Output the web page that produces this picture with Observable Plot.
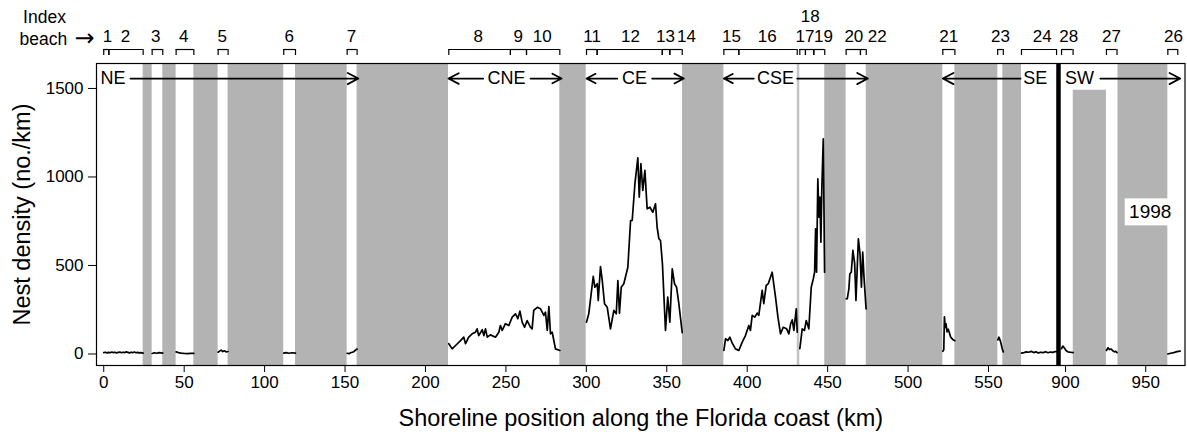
<!DOCTYPE html>
<html><head><meta charset="utf-8">
<script src="https://cdn.jsdelivr.net/npm/d3@7"></script>
<script src="https://cdn.jsdelivr.net/npm/@observablehq/plot@0.6"></script>
<style>
body{margin:0;background:#fff;}
#chart svg{font-family:"Liberation Sans",Arial,Helvetica,sans-serif;}
</style></head><body><div id="chart"></div>
<script>
// ---- data (km along coast, nests per km) ----
const xTicks = [0,50,100,150,200,250,300,350,400,450,500,550,900,950];
const yTicks = [0,500,1000,1500];

// unsurveyed shoreline (grey) [startKm, endKm]
const greyZones = [[24.5,30.1],[36.7,45.0],[56.0,71.1],[77.3,111.9],[119.2,151.3],[157.5,214.3],[283.5,299.9],[359.8,385.5],[448.2,461.5],[474.0,521.6],[529.1,555.8],[558.9,570.5],[932.7,963.8]];
const greyPartial = [[904.8,925.5,1490]];
const greyThin = [[431.1,432.7]];
const coastDivide = [593.5];

// nest-density segments [km, density]
const segB12 = [[0,8],[1,10],[2,6],[3,9],[4,7],[5,11],[6,8],[7,10],[8,6],[9,9],[10,11],[11,7],[12,10],[13,8],[14,12],[15,9],[16,6],[17,10],[18,8],[19,11],[20,7],[21,9],[22,6],[23,8],[24.5,5]];
const segB3 = [[30.1,3],[31.5,7],[33,4],[34.5,8],[36.7,5]];
const segB4 = [[45,12],[46.5,8],[48,5],[50,3],[52,2],[54,3],[56,4]];
const segB5 = [[71.1,10],[72,16],[73,22],[74,14],[75,18],[76,12],[77.3,14]];
const segB6 = [[111.9,5],[113.5,8],[115,4],[117,7],[119.2,5]];
const segB7 = [[151.3,4],[152.5,2],[153.5,7],[154.5,10],[155.5,13],[156.5,22],[157.5,28]];
const segCNE = [[214.5,58],[216.6,29],[218.7,48],[221.8,76],[223.8,95],[224.9,58],[226.9,95],[229,114],[231.1,123],[232.1,142],[233.1,104],[235.3,137],[236.3,104],[237.3,142],[238.4,95],[240.4,108],[243.5,95],[245.6,123],[246.6,161],[247.7,133],[249.7,171],[251.8,161],[253.9,208],[256,227],[257.4,199],[258.7,242],[260.1,180],[261.6,151],[263.2,189],[265.3,151],[266.3,142],[267.3,246],[269.5,264],[271.5,255],[273.6,218],[274.6,236],[275.7,133],[276.7,268],[277.7,114],[278.8,123],[280.8,29],[283.5,20]];
const segCE = [[300.1,180],[301.5,227],[304.3,438],[305.3,377],[306.8,397],[307.4,302],[308.8,494],[309.9,415],[311.3,284],[313,264],[315,142],[317.1,246],[318.6,227],[319.6,415],[320.6,230],[321.7,377],[323.3,397],[325.8,490],[327.5,754],[328.5,754],[330.2,962],[332,1108],[332.9,886],[333.9,1075],[335.1,924],[336.4,1037],[337.8,820],[339.5,829],[341.3,801],[343,849],[344,716],[345.1,651],[346.1,641],[347.3,510],[349.2,133],[350.6,321],[351.9,180],[353.4,481],[354.8,397],[356.1,377],[357.5,284],[359.6,120]];
const segCSE1 = [[385.5,20],[386.5,86],[388,76],[389.2,95],[390.7,61],[392.7,29],[394.8,20],[396.9,67],[398.9,104],[401,161],[402,133],[403.1,218],[404.7,208],[406.2,231],[407.2,218],[409.3,359],[410.3,284],[411.8,387],[413.1,397],[415.5,462],[417.6,321],[419.1,208],[420.7,114],[422.4,151],[424.5,142],[425.9,114],[427,171],[428,193],[429,133],[430.5,255],[431.1,123]];
const segCSE2 = [[432.7,30],[433.1,58],[434.2,142],[435.6,133],[436.7,189],[438.3,142],[439.8,377],[441.1,425],[441.9,462],[442.5,707],[443.1,462],[443.9,990],[444.6,773],[445.2,886],[445.8,632],[446.4,942],[447.3,1216],[448.1,462]];
const segCSE3 = [[461.5,312],[462.2,312],[463.2,368],[463.8,453],[464.7,462],[465.7,585],[466.8,510],[467.6,302],[469.1,651],[470.1,566],[471,377],[471.8,575],[472.6,434],[473.9,255]];
const segB21 = [[521.6,15],[522.2,25],[522.6,210],[523.1,150],[523.6,170],[524.2,125],[525,140],[526.5,95],[528,80],[529.1,75]];
const segB23 = [[555.8,80],[556.5,95],[557.5,70],[558.5,30],[559.2,12]];
const segB24 = [[570.5,5],[572,8],[573.5,12],[575,10],[576.5,15],[578,8],[579.5,12],[581,6],[582.5,10],[584,8],[585.5,13],[587,7],[588.5,11],[590,9],[591.5,14],[592.3,12]];
const segB28 = [[897.5,30],[898.3,45],[899.2,35],[900.3,20],[901.5,12],[903,10],[904.7,8]];
const segB27 = [[925.5,20],[926.5,35],[927.5,25],[928.5,28],[929.5,18],[930.5,12],[931.3,15],[932.1,8]];
const segB26 = [[963.8,0],[965.5,4],[967.5,8],[969.5,13],[971.5,16]];

// index beaches
const beachIds   = ["1","2","3","4","5","6","7","8","9","10","11","12","13","14","15","16","17","18","19","20","22","21","23","24","28","27","26"];
const beachStart = [0,3.2,30.1,45.0,71.1,111.9,151.3,214.5,252.8,262.8,300.1,306.7,347.2,351.9,385.5,394.8,432.7,436.2,441.4,461.5,470.4,521.6,555.7,570.5,897.5,925.5,963.8];
const beachEnd   = [3.2,24.5,36.7,56.0,77.3,119.2,157.5,252.8,262.8,283.5,306.7,347.2,351.9,359.6,394.8,431.1,436.2,441.4,448.2,470.4,474.0,529.1,559.2,592.3,904.7,932.1,970.0];
const beachLabelKm = [2.3,13.5,32.3,49.7,73.6,115.3,154.0,232.8,257.6,272.6,303.6,327.4,349.2,362.3,390.2,412.4,435.9,439.2,447.4,466.3,480.8,525.3,557.5,583.4,902.0,928.6,967.3];
const beachUpperRow = ["18"];

// regions
const regionNames = ["NE","CNE","CE","CSE","SE","SW"];
const regionLabelKm = [-2.0,250.3,329.9,417.6,579.0,908.7];
const regionArrows = [[16.6,158.3],[235.9,214.3],[265.3,284.6],[319.2,300.1],[340.9,360.6],[404.1,385.5],[431.1,475.0],[569.9,521.6],[921.7,971.5]];
const yearLabel = "1998";
const yearKm = 952.8, yearValue = 800;

// ---- build tables ----
const segments = {segB12,segB3,segB4,segB5,segB6,segB7,segCNE,segCE,segCSE1,segCSE2,segCSE3,segB21,segB23,segB24,segB28,segB27,segB26};
const lineData = [];
for (const [name, seg] of Object.entries(segments)) for (const [km, v] of seg) lineData.push({seg: name, km, v});
const beaches = beachIds.map((id,i)=>({id, start: beachStart[i], end: beachEnd[i], lab: beachLabelKm[i], upper: beachUpperRow.includes(id)}));
const legs = beaches.flatMap(b=>[b.start, b.end]);
const regions = regionNames.map((n,i)=>({n, km: regionLabelKm[i]}));

const Y_TOP = 1641, Y_BOT = -65;
const BR_TOP = 1720, BR_BOT = 1686, ROW = 1556, LAB = 1794, LAB_UP = 1907;

const plot = Plot.plot({
  width: 1187, height: 435,
  marginLeft: 96, marginRight: 2.5, marginTop: 63, marginBottom: 70,
  style: {fontFamily: '"Liberation Sans", Arial, Helvetica, sans-serif', background: "#fff", color: "#000"},
  x: {type: "linear", domain: [-4.5, 595, 897.1, 974.5], range: [96, 1060.4, 1060.4, 1184.5]},
  y: {domain: [Y_BOT, Y_TOP]},
  marks: [
    Plot.rect(greyZones, {x1: d=>d[0], x2: d=>d[1], fill: "#b3b3b3"}),
    Plot.rect(greyThin, {x1: d=>d[0], x2: d=>d[1], fill: "#c4c4c4"}),
    Plot.rect(greyPartial, {x1: d=>d[0], x2: d=>d[1], y1: Y_BOT, y2: d=>d[2], fill: "#b3b3b3"}),
    Plot.ruleX(coastDivide, {stroke: "#000", strokeWidth: 4.5}),
    Plot.line(lineData, {x: "km", y: "v", z: "seg", stroke: "#000", strokeWidth: 1.7}),
    Plot.frame({stroke: "#000", strokeWidth: 1.2}),
    Plot.axisX({ticks: xTicks, tickSize: 7, tickPadding: 3, fontSize: 17, label: null, tickFormat: d=>String(d)}),
    Plot.axisY({ticks: yTicks, tickSize: 8, tickPadding: 5, fontSize: 17, label: null, tickFormat: d=>String(d)}),
    Plot.text(["Shoreline position along the Florida coast (km)"], {frameAnchor: "bottom", lineAnchor: "middle", dy: 53, fontSize: 23.5}),
    Plot.text(["Nest density (no./km)"], {frameAnchor: "left", textAnchor: "middle", lineAnchor: "middle", dx: -74, rotate: -90, fontSize: 23.5}),
    // index beach header
    Plot.text(["Index"], {frameAnchor: "top-left", textAnchor: "middle", lineAnchor: "middle", dx: -52, dy: -46, fontSize: 17.5}),
    Plot.text(["beach"], {frameAnchor: "top-left", textAnchor: "start", lineAnchor: "middle", dx: -77, dy: -24, fontSize: 17.5}),
    Plot.text(["\u2192"], {frameAnchor: "top-left", textAnchor: "start", lineAnchor: "middle", dx: -22, dy: -25, fontSize: 24, fontFamily: "DejaVu Sans"}),
    Plot.ruleY(beaches, {x1: "start", x2: "end", y: BR_TOP, stroke: "#000", strokeWidth: 1.2}),
    Plot.ruleX(legs, {x: d=>d, y1: BR_BOT, y2: BR_TOP, stroke: "#000", strokeWidth: 1.2}),
    Plot.text(beaches, {x: "lab", y: d=>d.upper ? LAB_UP : LAB, text: "id", fontSize: 17, lineAnchor: "middle"}),
    // regions
    Plot.arrow(regionArrows, {x1: d=>d[0], x2: d=>d[1], y1: ROW, y2: ROW, stroke: "#000", strokeWidth: 1.8, headLength: 10, headAngle: 55}),
    Plot.text(regions, {x: "km", y: ROW, text: "n", fontSize: 18, textAnchor: "middle", filter: d=>d.n!=="NE"}),
    Plot.text(regions, {x: "km", y: ROW, text: "n", fontSize: 18, textAnchor: "start", filter: d=>d.n==="NE"}),
    // year label with white box
    Plot.rect([yearLabel], {x1: yearKm, x2: yearKm, y1: yearValue, y2: yearValue, insetLeft: -25, insetRight: -25, insetTop: -13.5, insetBottom: -13.5, fill: "#fff"}),
    Plot.text([yearLabel], {x: yearKm, y: yearValue, fontSize: 19})
  ]
});
document.getElementById("chart").appendChild(plot);
</script></body></html>
